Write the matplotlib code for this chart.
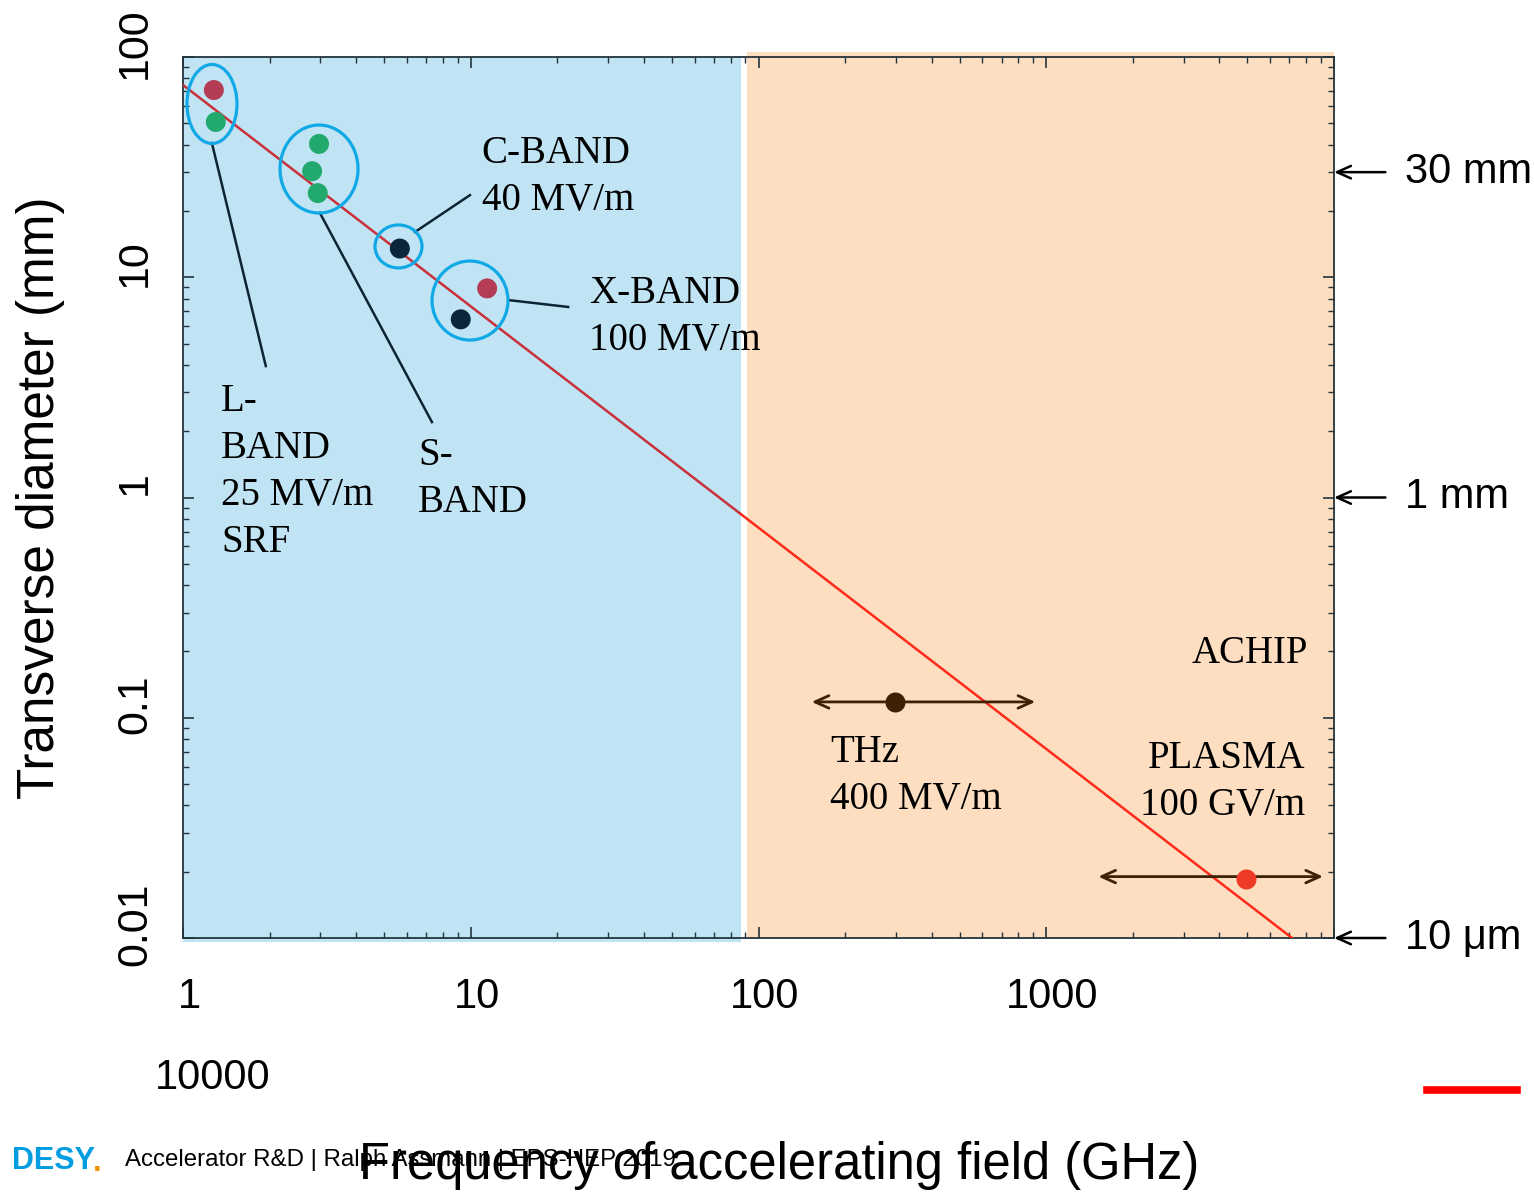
import numpy as np
import matplotlib
matplotlib.use("Agg")
import matplotlib.pyplot as plt
from matplotlib.patches import Ellipse
from matplotlib.transforms import ScaledTranslation

# --- data (GHz, mm) ---
rf_freq = [1.28, 1.30, 2.97, 2.81, 2.94, 5.67, 11.4, 9.23]
rf_diam = [70.8, 50.7, 40.3, 30.3, 24.1, 13.5, 8.9, 6.44]
rf_color = ['#b43c55', '#22aa6e', '#22aa6e', '#22aa6e', '#22aa6e', '#0b2638', '#b43c55', '#0b2638']

thz_freq, thz_diam = 299, 0.118
thz_range = [153, 916]
plasma_freq, plasma_diam = 4950, 0.0185
plasma_range = [1517, 9160]
plasma_arrow_y = 0.0190

trend_freq = [1, 87, 7150]
trend_diam = [74.6, 0.839, 0.0100]

xticks = [1, 10, 100, 1000, 10000]
xticklabels = ['1', '10', '100', '1000', '']
yticks = [0.01, 0.1, 1, 10, 100]
yticklabels = ['0.01', '0.1', '1', '10', '100']

# group rings: centre (GHz, mm), size (inches)
rings = [(1.261, 61.2, 0.50, 0.79), (2.97, 31.0, 0.78, 0.88),
         (5.61, 13.8, 0.47, 0.43), (9.94, 7.84, 0.76, 0.79)]
# leader lines from ring to label
leaders = [((1.26, 40.7), (1.94, 3.95)), ((2.99, 19.6), (7.33, 2.20)),
           ((6.40, 16.05), (9.94, 23.6)), ((13.5, 7.88), (21.8, 7.33))]

labels = [(10.9, 28.5, 'C-BAND\n40 MV/m', 'left'),
          (25.8, 6.6, 'X-BAND\n100 MV/m', 'left'),
          (1.355, 1.306, 'L-\nBAND\n25 MV/m\nSRF', 'left'),
          (6.56, 1.21, 'S-\nBAND', 'left'),
          (177, 0.0544, 'THz\n400 MV/m', 'left'),
          (8122, 0.1948, 'ACHIP', 'right'),
          (7925, 0.0511, 'PLASMA\n100 GV/m', 'right')]

right_marks = [(30, '30 mm'), (1, '1 mm'), (0.01, '10 μm')]

blue_bg = '#c1e4f5'
orange_bg = '#fddec0'
sans = 'Liberation Sans'
serif = 'Liberation Serif'

fig = plt.figure(figsize=(15.34, 11.92), dpi=100)
ax = fig.add_axes([183/1534, 254/1192, 1151/1534, 881/1192])
ax.set_xscale('log')
ax.set_yscale('log')
ax.set_xlim(1, 10000)
ax.set_ylim(0.01, 100)

ax.axvspan(1, 87, ymin=-0.005, ymax=1.0, color=blue_bg, lw=0, clip_on=False, zorder=0)
ax.axvspan(91, 10000, ymin=0, ymax=1.006, color=orange_bg, lw=0, clip_on=False, zorder=0)
ax.patch.set_visible(False)

# trend line
ax.plot(trend_freq[:2], trend_diam[:2], color='#c8303a', lw=1.8, zorder=3)
ax.plot(trend_freq[1:], trend_diam[1:], color='#ff2a1a', lw=1.8, zorder=3)

ax.scatter(rf_freq, rf_diam, s=207, c=rf_color, lw=0, zorder=5)
ax.scatter([thz_freq], [thz_diam], s=207, c='#3d2206', lw=0, zorder=5)
ax.scatter([plasma_freq], [plasma_diam], s=207, c='#ee3a26', lw=0, zorder=5)

ax.annotate('', xy=(thz_range[0], thz_diam), xytext=(thz_range[1], thz_diam),
            arrowprops=dict(arrowstyle='<->,head_length=1.0,head_width=0.45', color='#3d2206', lw=2, shrinkA=0, shrinkB=0), zorder=4)
ax.annotate('', xy=(plasma_range[0], plasma_arrow_y), xytext=(plasma_range[1], plasma_arrow_y),
            arrowprops=dict(arrowstyle='<->,head_length=1.0,head_width=0.45', color='#3d2206', lw=2, shrinkA=0, shrinkB=0), zorder=4)

for cx, cy, w, h in rings:
    tr = fig.dpi_scale_trans + ScaledTranslation(cx, cy, ax.transData)
    ax.add_patch(Ellipse((0, 0), w, h, transform=tr, fill=False, ec='#10a9e6', lw=2.3, zorder=6))

for (x0, y0), (x1, y1) in leaders:
    ax.plot([x0, x1], [y0, y1], color='#0d2433', lw=1.8, zorder=4)

for x, y, s, ha in labels:
    ax.text(x, y, s, ha=ha, va='center', multialignment=ha, family=serif, fontsize=28,
            linespacing=1.36, zorder=7)

for y, s in right_marks:
    ax.annotate('', xy=(1.0, y), xycoords=('axes fraction', 'data'),
                xytext=(37, 0), textcoords='offset points',
                arrowprops=dict(arrowstyle='->,head_length=1.0,head_width=0.45', color='black', lw=1.8, shrinkA=0, shrinkB=0),
                annotation_clip=False)
    ax.annotate(s, xy=(1.0, y), xycoords=('axes fraction', 'data'),
                xytext=(51, 0), textcoords='offset points', ha='left', va='center',
                family=sans, fontsize=30, annotation_clip=False)

ax.set_xticks(xticks)
ax.set_xticklabels(xticklabels, family=sans, fontsize=30)
ax.set_yticks(yticks)
ax.set_yticklabels(yticklabels, family=sans, fontsize=31, rotation=90, va='center')
ax.tick_params(which='both', direction='in', top=True, right=True, colors='#23343c')
ax.tick_params(which='major', length=8, width=1.2)
ax.tick_params(which='minor', length=4.5, width=1.0)
ax.tick_params(axis='x', which='major', pad=28, labelcolor='black')
ax.tick_params(axis='y', which='major', pad=20, labelcolor='black')
for lab in ax.get_yticklabels():
    lab.set_transform(lab.get_transform() + ScaledTranslation(0, 0.14, fig.dpi_scale_trans))
for lab in ax.get_xticklabels():
    lab.set_transform(lab.get_transform() + ScaledTranslation(0.06, 0, fig.dpi_scale_trans))
for sp in ax.spines.values():
    sp.set_color('#23343c')
    sp.set_linewidth(1.3)

ax.set_ylabel('Transverse diameter (mm)', family=sans, fontsize=37)
ax.yaxis.set_label_coords(-118/1151, 0.5)

fig.text(213/1534, 1 - 1078/1192, '10000', ha='center', va='center', family=sans, fontsize=30)
fig.text(779/1534, 1 - 1165/1192, 'Frequency of accelerating field (GHz)', ha='center', va='center',
         family=sans, fontsize=36.5)
fig.text(12/1534, 1 - 1161/1192, 'DESY', ha='left', va='center', color='#009ee0',
         family=['Liberation Sans Narrow', sans], weight='bold', fontsize=22)
fig.text(93/1534, 1 - 1163/1192, '.', ha='left', va='center', color='#f39200',
         family=sans, weight='bold', fontsize=22)
fig.text(125/1534, 1 - 1160/1192, 'Accelerator R&D | Ralph Assmann | EPS-HEP 2019', ha='left', va='center',
         family=sans, fontsize=17.3)
fig.add_artist(plt.Line2D([1427/1534, 1517/1534], [1 - 1090/1192] * 2, color='#ff0000', lw=5.5))

fig.savefig('out.png', dpi=100)
